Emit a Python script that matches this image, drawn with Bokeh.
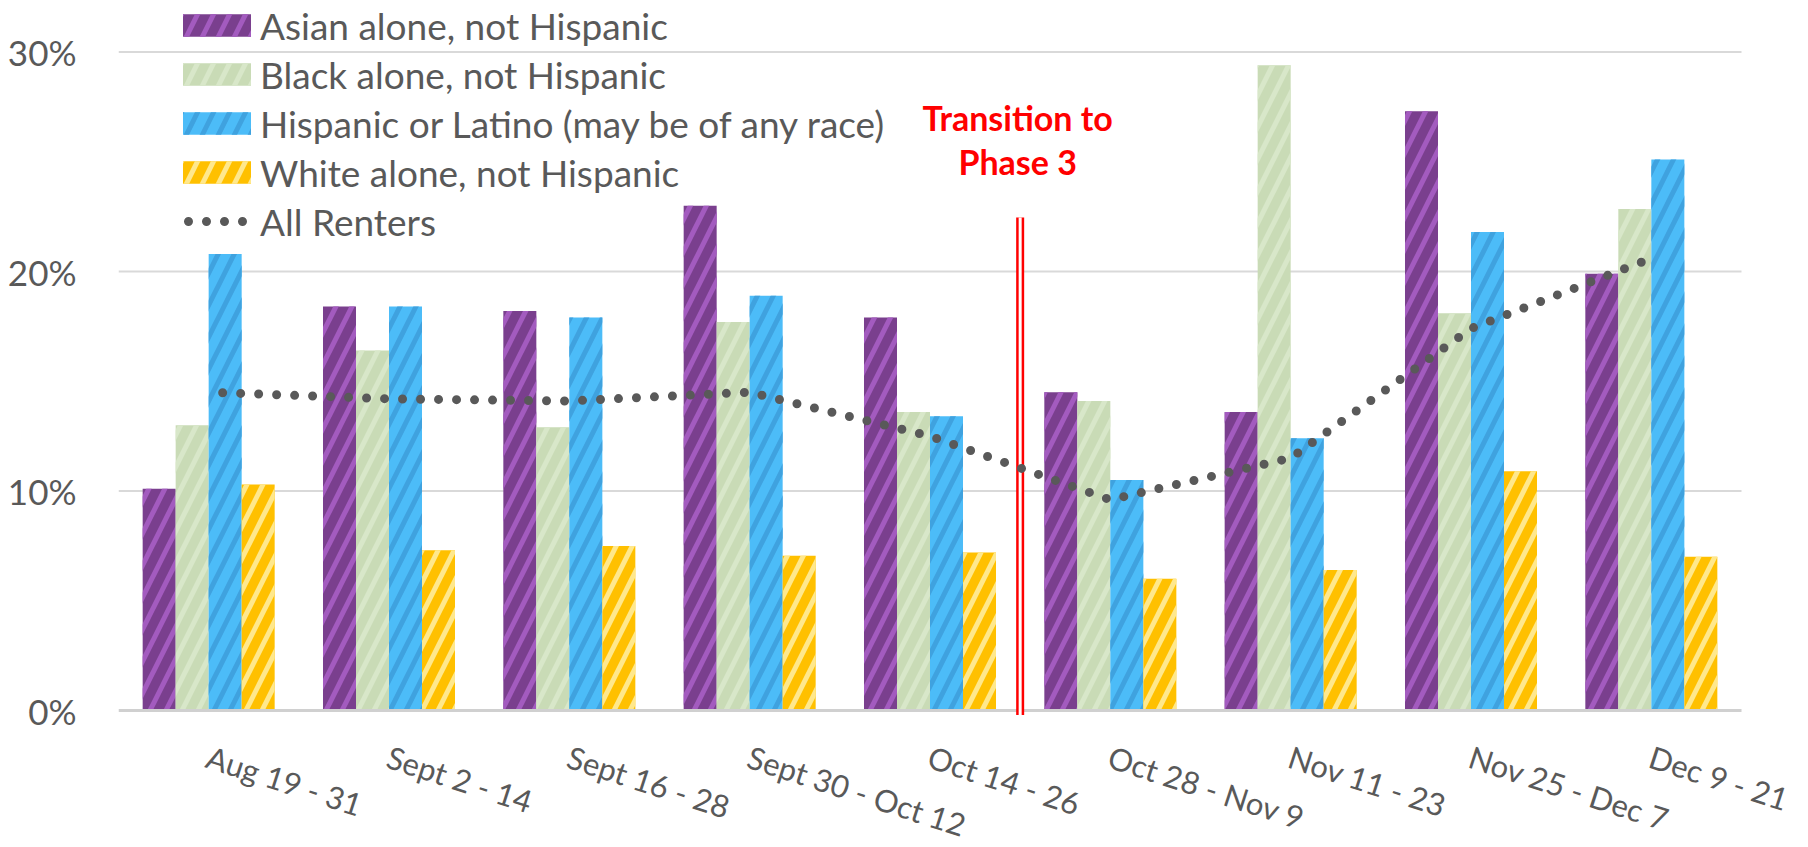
import numpy as np
from bokeh.plotting import figure
from bokeh.models import Range1d, FixedTicker, Legend, LegendItem, Label
from bokeh.core.properties import value
from bokeh.embed import file_html
from bokeh.resources import INLINE

# ---------------- data ----------------
categories = ["Aug 19 - 31", "Sept 2 - 14", "Sept 16 - 28", "Sept 30 - Oct 12",
              "Oct 14 - 26", "Oct 28 - Nov 9", "Nov 11 - 23", "Nov 25 - Dec 7",
              "Dec 9 - 21"]
series_names = ["Asian alone, not Hispanic", "Black alone, not Hispanic",
                "Hispanic or Latino (may be of any race)", "White alone, not Hispanic"]
asian = [10.1, 18.4, 18.2, 23.0, 17.9, 14.5, 13.6, 27.3, 19.9]
black = [13.0, 16.4, 12.9, 17.7, 13.6, 14.1, 29.4, 18.1, 22.85]
hispanic = [20.8, 18.4, 17.9, 18.9, 13.4, 10.5, 12.4, 21.8, 25.1]
white = [10.3, 7.3, 7.5, 7.05, 7.2, 6.0, 6.4, 10.9, 7.0]
all_renters = [14.5, 14.2, 14.1, 14.5, 12.5, 9.6, 11.5, 17.4, 20.6]
line_name = "All Renters"
y_ticks = [0, 10, 20, 30]
y_tick_labels = ["0%", "10%", "20%", "30%"]
transition_lines = ["Transition to", "Phase 3"]
transition_after = "Oct 14 - 26"

# ---------------- styles ----------------
FONT = "Lato"
GREY = "#595959"
fills = ["#7A3F8E", "#C9DBB6", "#4CBCF8", "#FFC000"]
hatches = ["#A35BBF", "#D8E7C9", "#3FA2DF", "#FFE88C"]
BAR_W = 0.183
n = len(categories)
x_center = np.arange(n) + 0.5

W, H = 1808, 846
LEFT = 118
PX_PER_CAT = 1623 / n
PX_PER_PCT = 21.95
ZERO_Y = 710

p = figure(width=W, height=H, output_backend="svg", toolbar_location=None,
           x_range=Range1d(0, (W - LEFT) / PX_PER_CAT),
           y_range=Range1d(-(H - ZERO_Y) / PX_PER_PCT, ZERO_Y / PX_PER_PCT),
           min_border_left=LEFT, min_border_right=0, min_border_top=0,
           min_border_bottom=0)
p.outline_line_color = None
p.background_fill_color = "white"
p.grid.visible = False

# y axis (labels only)
p.xaxis.visible = False
ya = p.yaxis[0]
ya.ticker = FixedTicker(ticks=y_ticks)
ya.major_label_overrides = {t: l for t, l in zip(y_ticks, y_tick_labels)}
ya.axis_line_color = None
ya.major_tick_line_color = None
ya.minor_tick_line_color = None
ya.major_label_text_font = FONT
ya.major_label_text_font_size = "35px"
ya.major_label_text_color = GREY
ya.major_label_standoff = 36

# gridlines, limited to the category area
p.segment(x0=0, x1=n, y0=y_ticks[1:], y1=y_ticks[1:], line_color="#D9D9D9", line_width=2)

# bars
series = [asian, black, hispanic, white]
bar_renderers = []
for i, vals in enumerate(series):
    off = (i - 1.5) * BAR_W
    r = p.vbar(x=x_center + off, top=vals, bottom=0, width=BAR_W,
               fill_color=fills[i], line_color=None,
               hatch_pattern="right_diagonal_line", hatch_color=hatches[i],
               hatch_scale=32, hatch_weight=5)
    bar_renderers.append(r)

# baseline
p.segment(x0=[0], x1=[n], y0=[0], y1=[0], line_color="#D0D0D0", line_width=3)

# transition double line
bx = categories.index(transition_after) + 1
p.segment(x0=[bx], y0=[-0.2], x1=[bx], y1=[22.46], line_color="#FF0000", line_width=8)
p.segment(x0=[bx], y0=[-0.2], x1=[bx], y1=[22.46], line_color="white", line_width=3)
for txt, yy in zip(transition_lines, [27.0, 25.0]):
    p.add_layout(Label(x=bx, y=yy, x_offset=-2.5, text=txt, text_align="center",
                       text_baseline="alphabetic", text_font=FONT,
                       text_font_style="bold", text_font_size="34px",
                       text_color="#FF0000"))

# all renters dotted line
lr = p.line(x=x_center, y=all_renters, line_color=GREY, line_width=9,
            line_dash="0 18", line_dash_offset=4, line_cap="round")

# x category labels
p.text(x=x_center, y=np.zeros(n), text=categories, angle=-18, angle_units="deg",
       x_offset=5, y_offset=27, text_align="left", text_baseline="top",
       text_font=value(FONT), text_font_size="31px", text_color=GREY)

# legend
items = [LegendItem(label=s, renderers=[r]) for s, r in zip(series_names, bar_renderers)]
items.append(LegendItem(label=line_name, renderers=[lr]))
leg = Legend(items=items, location=(56, 602), orientation="vertical",
             glyph_width=85, glyph_height=28, label_height=46, spacing=3,
             padding=0, margin=0, label_standoff=1,
             label_text_font=FONT, label_text_font_size="37px",
             label_text_color=GREY, border_line_color=None,
             background_fill_alpha=0)
p.add_layout(leg)

open("out.html", "w").write(file_html(p, INLINE))
